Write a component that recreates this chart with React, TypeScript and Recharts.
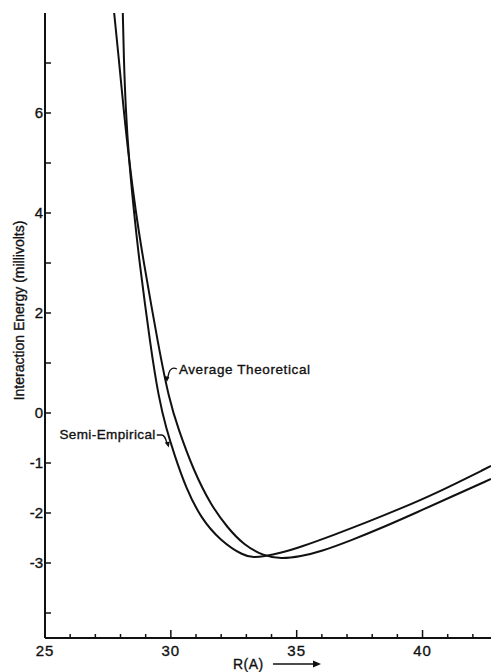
import React from 'react';
import { LineChart, Line, XAxis, YAxis, ReferenceDot } from 'recharts';

// R (A) and energy (millivolts)
const semiR = [28.09, 28.13, 28.21, 28.33, 28.53, 28.73, 29.2, 29.52, 29.81, 30.13, 30.6, 31.19, 31.98, 32.9, 33.3, 33.69, 34.37, 35.16, 36.47, 37.82, 39.13, 40.44, 42.72];
const semiE = [8.04, 7.1, 6.04, 5.1, 4.04, 3.1, 1.3, 0.3, -0.3, -0.82, -1.5, -2.1, -2.56, -2.86, -2.89, -2.87, -2.8, -2.68, -2.44, -2.18, -1.91, -1.63, -1.06];

const avgR = [27.74, 27.93, 28.13, 28.33, 28.6, 28.89, 29.52, 29.92, 30.28, 30.91, 31.59, 32.26, 32.9, 33.69, 34.37, 35.16, 35.96, 37.15, 38.46, 39.81, 41.12, 42.72];
const avgE = [8.04, 7.1, 6.04, 5.1, 4.04, 3.1, 1.3, 0.3, -0.3, -1.16, -1.84, -2.3, -2.64, -2.86, -2.92, -2.87, -2.77, -2.55, -2.28, -1.98, -1.68, -1.32];

const xTicks = [25, 26, 27, 28, 29, 30, 31, 32, 33, 34, 35, 36, 37, 38, 39, 40, 41, 42];
const xLabelled = [25, 30, 35, 40];
const xMajor = [30, 35, 40];
const yTicks = [-4, -3, -2, -1, 0, 1, 2, 3, 4, 5, 6, 7];
const yLabelled = [6, 4, 2, 0, -1, -2, -3];
const rightTicks = [0, -1, -2, -3, -4];

const semiData = semiR.map((r, i) => ({ r, e: semiE[i] }));
const avgData = avgR.map((r, i) => ({ r, e: avgE[i] }));

const FONT = '"Liberation Sans", Arial, sans-serif';
const INK = '#111';
const textInk = { fill: INK, stroke: INK, strokeWidth: 0.35, fontFamily: FONT };

const BottomTick = ({ x, y, payload }: any) => {
  const v = payload.value;
  const len = xMajor.includes(v) ? 8 : 4;
  return (
    <g>
      {v !== 25 && <line x1={x} x2={x} y1={y} y2={y - len} stroke={INK} strokeWidth={1.5} />}
      {xLabelled.includes(v) && (
        <text x={x} y={y + 18} textAnchor="middle" fontSize={15} letterSpacing={1} {...textInk}>
          {v}
        </text>
      )}
    </g>
  );
};

const TopTick = ({ x, y, payload }: any) => {
  const len = xMajor.includes(payload.value) ? 8 : 4;
  return <line x1={x} x2={x} y1={y} y2={y + len} stroke={INK} strokeWidth={1.5} />;
};

const LeftTick = ({ x, y, payload }: any) => {
  const v = payload.value;
  return (
    <g>
      <line x1={x} x2={x + 6} y1={y} y2={y} stroke={INK} strokeWidth={1.5} />
      {yLabelled.includes(v) && (
        <text x={x - 2} y={y + 5} textAnchor="end" fontSize={15} {...textInk}>
          {v}
        </text>
      )}
    </g>
  );
};

const RightTick = ({ x, y }: any) => (
  <line x1={x - 4} x2={x} y1={y} y2={y} stroke={INK} strokeWidth={1.5} />
);

const XTitle = ({ viewBox }: any) => {
  const x0 = viewBox.x + 188;
  const y0 = viewBox.y + viewBox.height;
  return (
    <g>
      <text x={x0} y={y0 - 3} fontSize={14} letterSpacing={0.5} {...textInk}>R(A)</text>
      <line x1={x0 + 40} x2={x0 + 84} y1={y0 - 8} y2={y0 - 8} stroke={INK} strokeWidth={1.5} />
      <polygon points={`${x0 + 88},${y0 - 8} ${x0 + 80},${y0 - 11.5} ${x0 + 80},${y0 - 4.5}`} fill={INK} />
    </g>
  );
};

const YTitle = ({ viewBox }: any) => {
  const cx = viewBox.x + 19;
  const cy = viewBox.y + viewBox.height / 2 - 15;
  return (
    <text x={cx} y={cy} transform={`rotate(-90 ${cx} ${cy})`} textAnchor="middle" dominantBaseline="central"
      fontSize={14} {...textInk}>
      Interaction Energy (millivolts)
    </text>
  );
};

const AvgNote = ({ cx, cy }: any) => (
  <g>
    <path d={`M${cx},${cy} C${cx - 4},${cy - 2} ${cx - 7},${cy} ${cx - 8},${cy + 4} L${cx - 9.5},${cy + 10}`}
      fill="none" stroke={INK} strokeWidth={1.3} />
    <polygon points={`${cx - 10},${cy + 13} ${cx - 12.5},${cy + 7} ${cx - 7.5},${cy + 8}`} fill={INK} />
    <text x={cx + 2} y={cy + 5} fontSize={13.5} letterSpacing={0.6} {...textInk}>
      Average  Theoretical
    </text>
  </g>
);

const SemiNote = ({ cx, cy }: any) => (
  <g>
    <path d={`M${cx},${cy} L${cx + 5},${cy} C${cx + 8},${cy} ${cx + 9},${cy + 4} ${cx + 10.5},${cy + 9}`}
      fill="none" stroke={INK} strokeWidth={1.3} />
    <polygon points={`${cx + 12},${cy + 12.5} ${cx + 8},${cy + 7.5} ${cx + 13},${cy + 6.5}`} fill={INK} />
    <text x={cx - 1} y={cy + 4} textAnchor="end" fontSize={13.5} letterSpacing={0.4} {...textInk}>
      Semi-Empirical
    </text>
  </g>
);

export default function App() {
  return (
    <div style={{ position: 'absolute', left: 0, top: 0, width: 491, height: 672, background: '#fff', overflow: 'hidden' }}>
      <LineChart width={491} height={672} margin={{ top: 13, right: 0, bottom: 0, left: 0 }}>
        <XAxis type="number" dataKey="r" domain={[25, 42.72]} allowDataOverflow ticks={xTicks} interval={0}
          height={34} tickSize={0} tickMargin={0} tickLine={false} tick={<BottomTick />}
          axisLine={{ stroke: INK, strokeWidth: 2 }} label={<XTitle />} />
        <XAxis xAxisId="top" orientation="top" type="number" dataKey="r" domain={[25, 42.72]} allowDataOverflow
          ticks={xTicks} interval={0} height={0} tickSize={0} tickMargin={0} tickLine={false} tick={<TopTick />}
          axisLine={{ stroke: INK, strokeWidth: 2 }} />
        <YAxis type="number" domain={[-4.5, 8]} allowDataOverflow ticks={yTicks} interval={0} width={45}
          tickSize={0} tickMargin={0} tickLine={false} tick={<LeftTick />}
          axisLine={{ stroke: INK, strokeWidth: 2 }} label={<YTitle />} />
        <YAxis yAxisId="right" orientation="right" type="number" domain={[-4.5, 8]} allowDataOverflow
          ticks={rightTicks} interval={0} width={0} tickSize={0} tickMargin={0} tickLine={false}
          tick={<RightTick />} axisLine={false} />
        <Line data={avgData} dataKey="e" type="basis" stroke={INK} strokeWidth={2} dot={false}
          isAnimationActive={false} name="Average Theoretical" />
        <Line data={semiData} dataKey="e" type="basis" stroke={INK} strokeWidth={2} dot={false}
          isAnimationActive={false} name="Semi-Empirical" />
        <ReferenceDot x={30.24} y={0.88} r={0} shape={(p: any) => <AvgNote {...p} />} />
        <ReferenceDot x={29.44} y={-0.44} r={0} shape={(p: any) => <SemiNote {...p} />} />
      </LineChart>
    </div>
  );
}
